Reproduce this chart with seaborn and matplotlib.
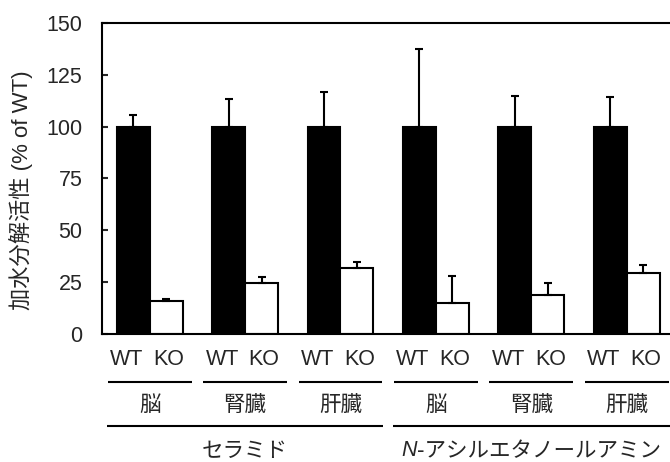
import matplotlib
matplotlib.use("Agg")
import matplotlib.pyplot as plt
import matplotlib.transforms as mtransforms
import seaborn as sns
import pandas as pd
import numpy as np

# ---- data ----
substrates = ["セラミド", "N-アシルエタノールアミン"]
tissues = ["脳", "腎臓", "肝臓", "脳", "腎臓", "肝臓"]
genotypes = ["WT", "KO"]
wt_mean = [100, 100, 100, 100, 100, 100]
wt_err = [5.6, 13.2, 16.9, 37.3, 14.8, 14.2]
ko_mean = [16.0, 24.4, 32.0, 14.8, 18.8, 29.3]
ko_err = [0.7, 3.2, 2.6, 13.2, 5.6, 4.0]
yticks = [0, 25, 50, 75, 100, 125, 150]
ylabel = "加水分解活性 (% of WT)"

sns.set_style("ticks")
plt.rcParams["font.family"] = ["Liberation Sans", "Noto Sans CJK JP"]
JP = ["Noto Sans CJK JP", "Liberation Sans"]
FS_LAT = 15.5
FS_JP = 15.5

groups = [f"g{i}" for i in range(len(tissues))]
df = pd.DataFrame({
    "group": groups * 2,
    "genotype": ["WT"] * len(groups) + ["KO"] * len(groups),
    "value": wt_mean + ko_mean,
    "err": wt_err + ko_err,
})

fig = plt.figure(figsize=(6.7, 4.62), dpi=100)
ax = fig.add_axes([102 / 670, 128 / 462, 572.4 / 670, 311 / 462])

sns.barplot(data=df, x="group", y="value", hue="genotype", order=groups,
            hue_order=genotypes, palette={"WT": "black", "KO": "white"},
            edgecolor="black", linewidth=1.5, width=0.69, errorbar=None,
            legend=False, ax=ax, saturation=1)

for cont, errs in zip(ax.containers, [wt_err, ko_err]):
    xs = [b.get_x() + b.get_width() / 2 for b in cont]
    ys = [b.get_height() for b in cont]
    ax.errorbar(xs, ys, yerr=[np.zeros(len(errs)), errs], fmt="none",
                ecolor="black", elinewidth=1.5, capsize=3, capthick=1.5,
                zorder=1)

ax.set_xlim(-0.5, 5.5)
ax.set_ylim(0, 150)
ax.set_yticks(yticks)
ax.set_yticklabels([str(t) for t in yticks])
ax.tick_params(axis="y", direction="in", length=4, width=1.5, labelsize=FS_LAT, pad=14)
ax.tick_params(axis="x", length=0, labelbottom=False)
ax.set_xlabel("")
ax.set_ylabel(ylabel, fontsize=16, family=["Liberation Sans", "Noto Sans CJK JP"])
ax.yaxis.set_label_coords(-0.121, 0.463)
for s in ax.spines.values():
    s.set_linewidth(1.5)
    s.set_color("black")

trans = mtransforms.blended_transform_factory(ax.transData, ax.transAxes)
for i, t in enumerate(tissues):
    ax.text(i - 0.24, -0.0836, "WT", transform=trans, ha="center", va="center",
            fontsize=FS_LAT, clip_on=False)
    ax.text(i + 0.2, -0.0836, "KO", transform=trans, ha="center", va="center",
            fontsize=FS_LAT, clip_on=False)
    ax.plot([i - 0.44, i + 0.44], [-0.154, -0.154], transform=trans,
            color="black", lw=1.5, clip_on=False, solid_capstyle="butt")
    ax.text(i, -0.228, t, transform=trans, ha="center", va="center",
            fontsize=FS_JP, family=JP, clip_on=False)

# substrate lines and labels
for k, sub in enumerate(substrates):
    g0, g1 = 3 * k, 3 * k + 2
    ax.plot([g0 - 0.45, g1 + 0.45], [-0.296, -0.296], transform=trans,
            color="black", lw=1.5, clip_on=False, solid_capstyle="butt")

YB = -0.375
ax.text(1, YB, substrates[0], transform=trans, ha="center", va="center",
        fontsize=FS_JP, family=JP, clip_on=False)

# N-acylethanolamine with italic N, centered on group 4
tN = ax.text(4, YB, "N", transform=trans, ha="left", va="center",
             fontsize=FS_JP, style="italic", family=["Liberation Sans"], clip_on=False)
tR = ax.text(4, YB, substrates[1][1:], transform=trans, ha="left", va="center",
             fontsize=FS_JP, family=JP, clip_on=False)
fig.canvas.draw()
r = fig.canvas.get_renderer()
wN = tN.get_window_extent(r).width
wR = tR.get_window_extent(r).width
total = wN + wR
x0_disp = trans.transform((4, 0))[0] - total / 2
inv = ax.transData.inverted()
xN = inv.transform((x0_disp, 0))[0]
xR = inv.transform((x0_disp + wN, 0))[0]
tN.set_x(xN)
tR.set_x(xR)

fig.savefig("out.png", dpi=100)
